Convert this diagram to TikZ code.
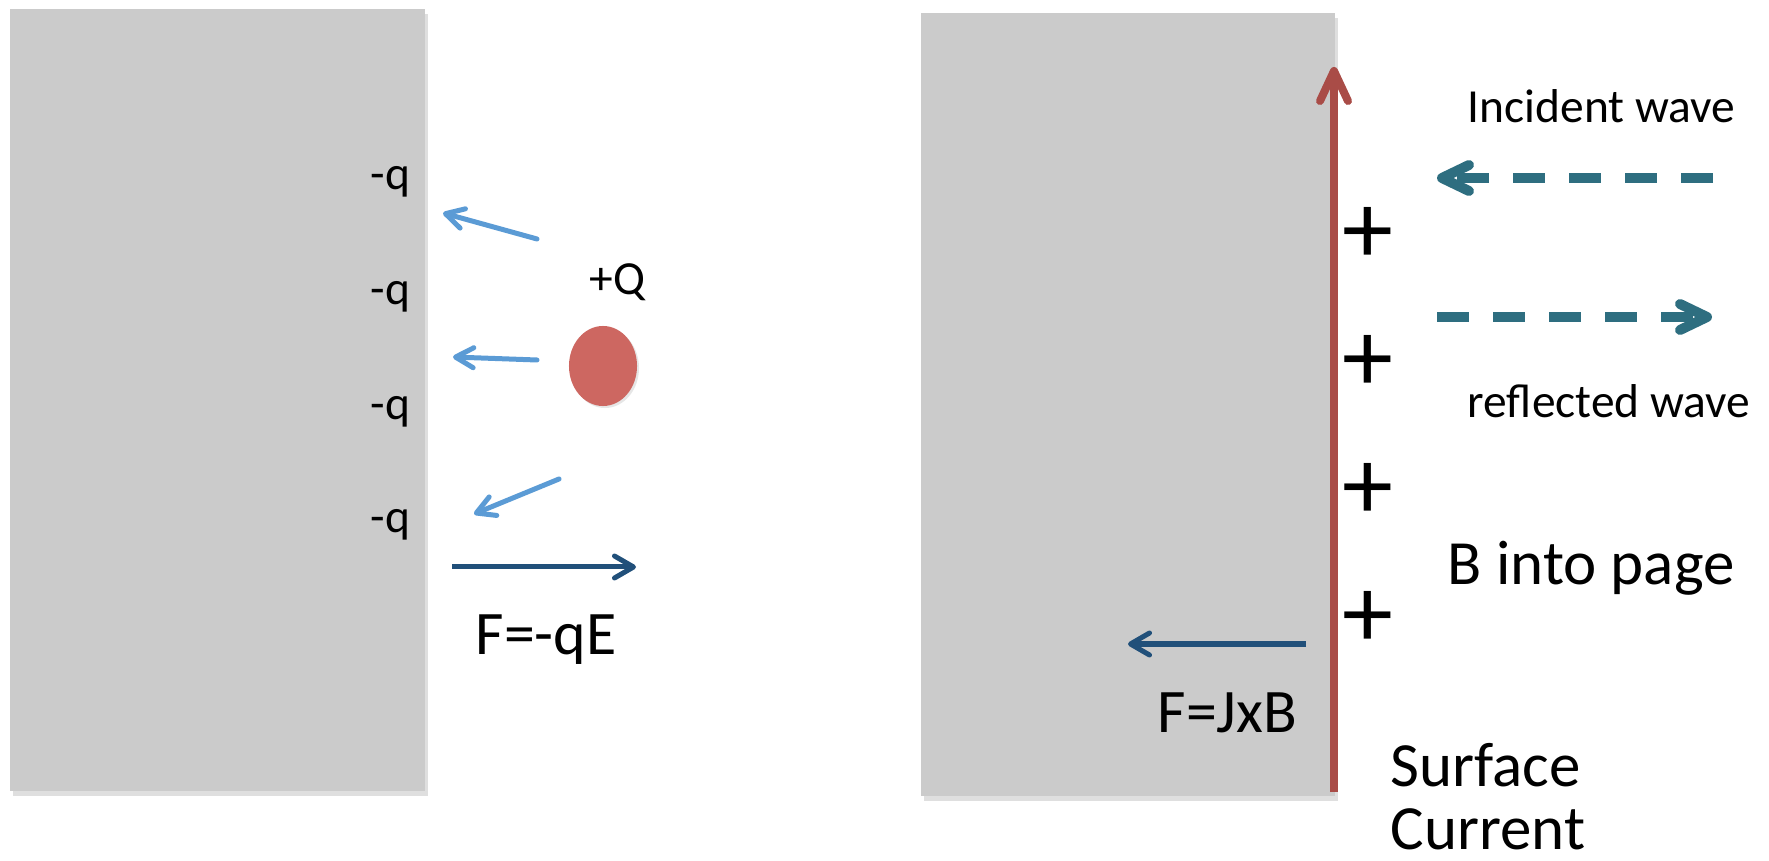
\documentclass[tikz,border=0pt]{standalone}
\usepackage{fontspec}
\setmainfont{Carlito}
\usepackage{xcolor}
\usetikzlibrary{arrows.meta, shapes.geometric, shadows}

\definecolor{slabgray}{HTML}{CBCBCB}
\definecolor{fieldblue}{HTML}{5B9BD5}
\definecolor{forceblue}{HTML}{21507A}
\definecolor{wavecol}{HTML}{2E6E80}
\definecolor{currentred}{HTML}{A94C47}
\definecolor{chargered}{HTML}{CD6761}

\begin{document}
\begin{tikzpicture}[
    x=0.01cm, y=-0.01cm,
    slabbox/.style={fill=slabgray, draw=none, inner sep=0pt, anchor=north west,
        drop shadow={shadow xshift=0.03cm, shadow yshift=-0.05cm, opacity=0.25}},
    lbl/.style={font=\fontsize{#1}{#1}\selectfont, inner sep=0pt, anchor=base west},
    plus/.style={font=\fontsize{29}{29}\selectfont, inner sep=0pt, anchor=base},
    efield/.style={-{Straight Barb[length=0.18cm, width=0.2cm, round]}, line width=0.05cm, line cap=round, fieldblue},
    force/.style={-{Straight Barb[length=0.19cm, width=0.22cm, round]}, line width=0.05cm, forceblue},
    wave/.style={-{Straight Barb[length=0.27cm, width=0.26cm, round]}, line width=0.1cm, wavecol, dash pattern=on 0.32cm off 0.24cm},
    current/.style={-{Straight Barb[length=0.3cm, width=0.28cm, round]}, line width=0.08cm, currentred}
]
\useasboundingbox (0,0) rectangle (1769,861);

% conductor slabs
\node[slabbox, minimum width=4.15cm, minimum height=7.82cm] (leftslab) at (9,8) {};
\node[slabbox, minimum width=4.14cm, minimum height=7.83cm] (rightslab) at (920,12) {};

% induced charges
\node[lbl=13.5] (q1) at (370,190) {-q};
\node[lbl=13.5] (q2) at (370,305) {-q};
\node[lbl=13.5] (q3) at (370,420) {-q};
\node[lbl=13.5] (q4) at (370,533) {-q};

% point charge
\node[ellipse, fill=chargered, minimum width=0.68cm, minimum height=0.8cm,
    drop shadow={shadow xshift=0.02cm, shadow yshift=-0.02cm, opacity=0.2}] (Q) at (603,366) {};
\node[lbl=13.5] (Qlbl) at (589,295) {+Q};

% field arrows
\coordinate (e1s) at (537,239); \coordinate (e1t) at (443,213);
\coordinate (e2s) at (537,360); \coordinate (e2t) at (453,357);
\coordinate (e3s) at (559,479); \coordinate (e3t) at (474,514);
\draw[efield] (e1s) -- (e1t);
\draw[efield] (e2s) -- (e2t);
\draw[efield] (e3s) -- (e3t);

% electric force
\coordinate (fes) at (452,567); \coordinate (fet) at (636,567);
\draw[force] (fes) -- (fet);
\node[lbl=17.6] (felbl) at (475,655) {F=-qE};

% surface current
\coordinate (jbot) at (1334,792); \coordinate (jtop) at (1334,67);
\draw[current] (jbot) -- (jtop);
\node[lbl=17.9] (surf) at (1390,786) {Surface};
\node[lbl=17.9] (curr) at (1390,850) {Current};

% B field
\node[plus] (p1) at (1368,264) {+};
\node[plus] (p2) at (1368,392) {+};
\node[plus] (p3) at (1368,520) {+};
\node[plus] (p4) at (1368,648) {+};
\node[lbl=17.9] (blbl) at (1447,585) {B into page};

% magnetic force
\coordinate (fbs) at (1306,644); \coordinate (fbt) at (1128,644);
\draw[force] (fbs) -- (fbt);
\node[lbl=17.6] (fblbl) at (1157,732) {F=JxB};

% waves
\coordinate (ins) at (1713,178); \coordinate (int) at (1437,178);
\coordinate (rfs) at (1437,317); \coordinate (rft) at (1712,317);
\draw[wave] (ins) -- (int);
\draw[wave] (rfs) -- (rft);
\node[lbl=13.5] (inlbl) at (1467,123) {Incident wave};
\node[lbl=13.5] (rflbl) at (1467,418) {reflected wave};

\end{tikzpicture}
\end{document}
